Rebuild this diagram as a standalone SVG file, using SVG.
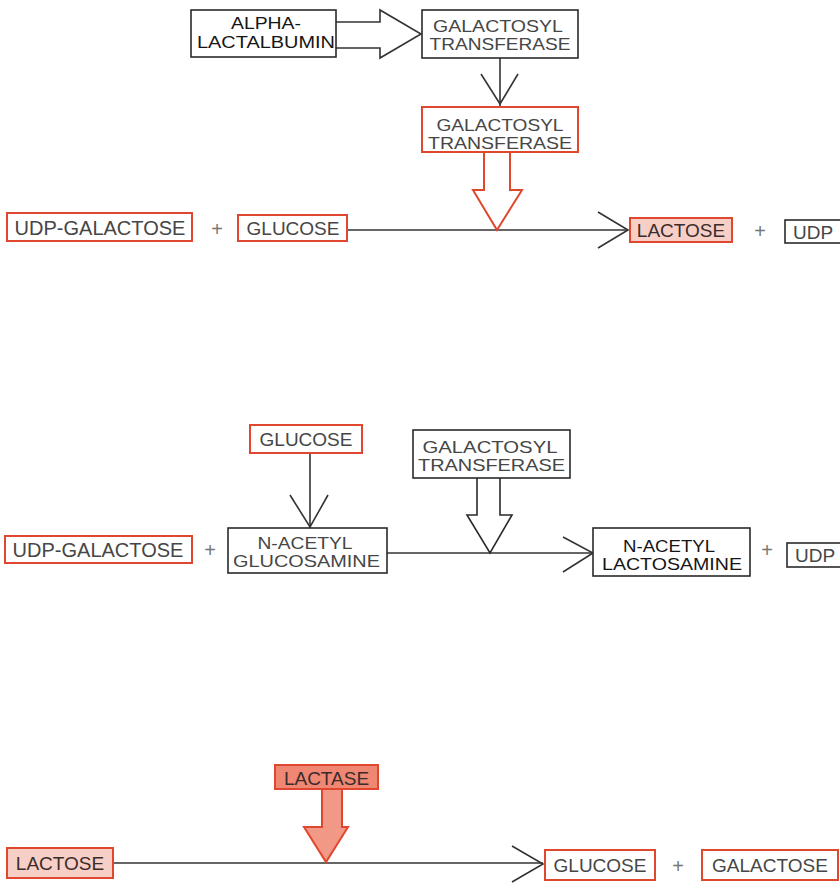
<svg xmlns="http://www.w3.org/2000/svg" width="840" height="884" viewBox="0 0 840 884">
<style>
.t{font-family:"Liberation Sans",Arial,sans-serif;font-size:19px;fill:#464646;text-anchor:middle}
.t2{font-size:17px}
.dk{fill:#151515}
.lc{fill:#3a2c2c}
.bk{fill:#fff;stroke:#2a2a2a;stroke-width:1.6}
.rd{fill:#fff;stroke:#e0472f;stroke-width:2}
.pk{fill:#f8cfc6;stroke:#e0472f;stroke-width:2}
.rf{fill:#ef8773;stroke:#e0472f;stroke-width:2}
.ln{fill:none;stroke:#333;stroke-width:1.6}
.pl{font-family:"Liberation Sans",Arial,sans-serif;font-size:20px;fill:#777;text-anchor:middle;font-weight:300}
</style>
<rect width="840" height="884" fill="#fff"/>
<g id="connectors">
  <polyline points="336,22 380,22 380,10 421,34 380,58 380,48 336,48" fill="#fff" stroke="#333" stroke-width="1.6"/>
  <line class="ln" x1="500" y1="58" x2="500" y2="106"/>
  <polyline class="ln" points="481,74 500,104 518,74"/>
  <line class="ln" x1="347" y1="230" x2="628" y2="230"/>
  <polyline class="ln" points="598,212 628,230 598,248"/>
  <polyline points="484,152 484,190 473,190 497,230 522,190 510,190 510,152" fill="#fff" stroke="#e0472f" stroke-width="2"/>
  <line class="ln" x1="310" y1="453" x2="310" y2="528"/>
  <polyline class="ln" points="290,495 310,527 328,495"/>
  <line class="ln" x1="387" y1="553" x2="593" y2="553"/>
  <polyline class="ln" points="563,537 593,553 563,572"/>
  <polyline points="477,478 477,515 467,515 490,553 512,515 500,515 500,478" fill="#fff" stroke="#2a2a2a" stroke-width="1.6"/>
  <line class="ln" x1="113" y1="863" x2="543" y2="863"/>
  <polyline class="ln" points="512,846 543,864 512,882"/>
  <polygon points="322,788 322,827 304,827 326,862 348,827 342,827 342,788" fill="#f29886" stroke="#e0472f" stroke-width="2"/>
</g>
<g id="alpha-lactalbumin">
  <rect class="bk" x="191" y="10" width="145" height="47"/>
  <text class="t t2 dk" x="266" y="29" textLength="70" lengthAdjust="spacingAndGlyphs">ALPHA-</text>
  <text class="t t2 dk" x="266" y="48" textLength="138" lengthAdjust="spacingAndGlyphs">LACTALBUMIN</text>
</g>
<g id="galactosyl-transferase-1">
  <rect class="bk" x="422" y="10" width="156" height="48"/>
  <text class="t t2" x="498" y="32" textLength="130" lengthAdjust="spacingAndGlyphs">GALACTOSYL</text>
  <text class="t t2" x="500" y="50" textLength="141" lengthAdjust="spacingAndGlyphs">TRANSFERASE</text>
</g>
<g id="galactosyl-transferase-2">
  <rect class="rd" x="422" y="107" width="156" height="45"/>
  <text class="t t2" x="500" y="131" textLength="127" lengthAdjust="spacingAndGlyphs">GALACTOSYL</text>
  <text class="t t2" x="500" y="149" textLength="144" lengthAdjust="spacingAndGlyphs">TRANSFERASE</text>
</g>
<g id="udp-galactose-1">
  <rect class="rd" x="7" y="213" width="185" height="28"/>
  <text class="t" x="100" y="235" style="font-size:20px">UDP-GALACTOSE</text>
</g>
<text class="pl" x="217" y="236">+</text>
<g id="glucose-1">
  <rect class="rd" x="238" y="215" width="109" height="26"/>
  <text class="t" x="293" y="235">GLUCOSE</text>
</g>
<g id="lactose-1">
  <rect class="pk" x="630" y="218" width="102" height="24"/>
  <text class="t lc" x="681" y="237">LACTOSE</text>
</g>
<text class="pl" x="760" y="238">+</text>
<g id="udp-1">
  <rect class="bk" x="785" y="220" width="70" height="23"/>
  <text class="t" x="793" y="239" style="text-anchor:start">UDP</text>
</g>
<g id="glucose-2">
  <rect class="rd" x="250" y="425" width="112" height="28"/>
  <text class="t" x="306" y="446">GLUCOSE</text>
</g>
<g id="galactosyl-transferase-3">
  <rect class="bk" x="413" y="430" width="157" height="48"/>
  <text class="t t2" x="490" y="453" textLength="135" lengthAdjust="spacingAndGlyphs">GALACTOSYL</text>
  <text class="t t2" x="491.5" y="471" textLength="147" lengthAdjust="spacingAndGlyphs">TRANSFERASE</text>
</g>
<g id="udp-galactose-2">
  <rect class="rd" x="5" y="536" width="187" height="27"/>
  <text class="t" x="98" y="557" style="font-size:20px">UDP-GALACTOSE</text>
</g>
<text class="pl" x="210" y="557">+</text>
<g id="n-acetyl-glucosamine">
  <rect class="bk" x="228" y="528" width="159" height="45"/>
  <text class="t t2" x="305" y="549" textLength="95" lengthAdjust="spacingAndGlyphs">N-ACETYL</text>
  <text class="t t2" x="306.5" y="567" textLength="147" lengthAdjust="spacingAndGlyphs">GLUCOSAMINE</text>
</g>
<g id="n-acetyl-lactosamine">
  <rect class="bk" x="593" y="528" width="157" height="48"/>
  <text class="t t2 dk" x="669" y="552" textLength="92" lengthAdjust="spacingAndGlyphs">N-ACETYL</text>
  <text class="t t2 dk" x="672" y="570" textLength="140" lengthAdjust="spacingAndGlyphs">LACTOSAMINE</text>
</g>
<text class="pl" x="767" y="557">+</text>
<g id="udp-2">
  <rect class="bk" x="787" y="543" width="70" height="24"/>
  <text class="t" x="795" y="562" style="text-anchor:start">UDP</text>
</g>
<g id="lactase">
  <rect class="rf" x="275" y="765" width="103" height="24"/>
  <text class="t lc" x="326.5" y="785">LACTASE</text>
</g>
<g id="lactose-2">
  <rect class="pk" x="7" y="848" width="106" height="30"/>
  <text class="t lc" x="60" y="870">LACTOSE</text>
</g>
<g id="glucose-3">
  <rect class="rd" x="545" y="850" width="110" height="30"/>
  <text class="t" x="600" y="872">GLUCOSE</text>
</g>
<text class="pl" x="678" y="873">+</text>
<g id="galactose">
  <rect class="rd" x="702" y="850" width="136" height="30"/>
  <text class="t" x="770" y="872">GALACTOSE</text>
</g>
</svg>
